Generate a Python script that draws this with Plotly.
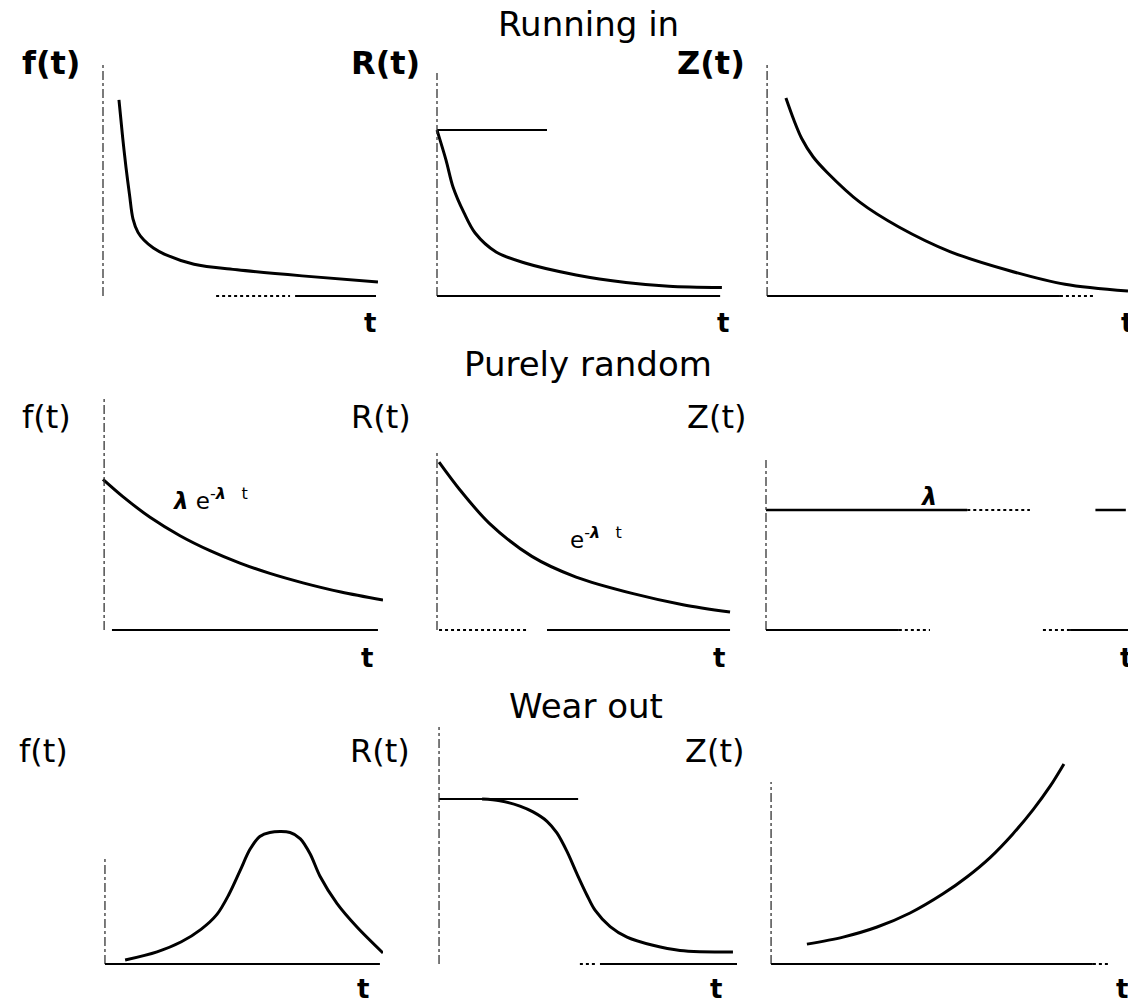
import plotly.graph_objects as go

# ---------------- data (t and values normalised to each panel) ----------------
# Running in
ri_f_t = [0.057, 0.070, 0.082, 0.095, 0.107, 0.125, 0.146, 0.180, 0.221, 0.325, 0.479, 0.711, 0.982]
ri_f_v = [0.838, 0.680, 0.551, 0.430, 0.330, 0.272, 0.239, 0.205, 0.178, 0.136, 0.112, 0.086, 0.060]
ri_R_t = [0.0, 0.031, 0.055, 0.093, 0.131, 0.203, 0.302, 0.478, 0.649, 0.797, 0.979]
ri_R_v = [0.709, 0.581, 0.466, 0.355, 0.269, 0.188, 0.141, 0.090, 0.058, 0.042, 0.036]
ri_R_ref_t = [0.0, 0.378]
ri_R_ref_v = [0.709, 0.709]
ri_Z_t = [0.055, 0.077, 0.099, 0.130, 0.169, 0.260, 0.367, 0.508, 0.666, 0.826, 1.0]
ri_Z_v = [0.846, 0.752, 0.672, 0.595, 0.528, 0.400, 0.295, 0.190, 0.111, 0.050, 0.021]

# Purely random
pr_f_t = [0.0, 0.071, 0.168, 0.275, 0.382, 0.489, 0.596, 0.714, 0.850, 1.0]
pr_f_v = [0.655, 0.580, 0.490, 0.410, 0.345, 0.291, 0.246, 0.205, 0.165, 0.130]
pr_R_t = [0.007, 0.079, 0.179, 0.326, 0.478, 0.674, 0.845, 1.007]
pr_R_v = [0.730, 0.609, 0.465, 0.320, 0.230, 0.158, 0.110, 0.078]
pr_Z_t = [0.0, 0.556]
pr_Z_v = [0.522, 0.522]
pr_Z_dot_t = [0.556, 0.729]
pr_Z_dot_v = [0.522, 0.522]
pr_Z_end_t = [0.910, 0.994]
pr_Z_end_v = [0.522, 0.522]

# Wear out
wo_f_t = [0.079, 0.193, 0.280, 0.350, 0.407, 0.450, 0.490, 0.525, 0.560, 0.596, 0.668, 0.705, 0.740, 0.775, 0.836, 0.907, 1.0]
wo_f_v = [0.017, 0.052, 0.095, 0.148, 0.212, 0.298, 0.400, 0.490, 0.545, 0.562, 0.562, 0.535, 0.470, 0.375, 0.258, 0.158, 0.047]
wo_R_t = [0.155, 0.216, 0.285, 0.330, 0.378, 0.412, 0.447, 0.481, 0.515, 0.543, 0.595, 0.653, 0.742, 0.835, 1.017]
wo_R_v = [0.705, 0.698, 0.675, 0.650, 0.610, 0.560, 0.480, 0.385, 0.295, 0.230, 0.160, 0.115, 0.080, 0.058, 0.051]
wo_R_ref_t = [0.007, 0.485]
wo_R_ref_v = [0.705, 0.705]
wo_Z_t = [0.113, 0.213, 0.307, 0.398, 0.489, 0.555, 0.619, 0.682, 0.738, 0.785, 0.823]
wo_Z_v = [0.085, 0.115, 0.158, 0.218, 0.300, 0.372, 0.455, 0.556, 0.660, 0.760, 0.855]

row_titles = ["Running in", "Purely random", "Wear out"]
panel_labels = ["f(t)", "R(t)", "Z(t)"]
axis_label = "t"

# ---------------- layout geometry (pixels) ----------------
W, H = 1128, 1005
FONT = "DejaVu Sans"
cols = [(103, 280), (437, 291), (766, 362)]      # x of v-axis, width of t=0..1
rows = [(296, 234), (630, 230), (964, 234)]      # y of t-axis, height of v=0..1
XR = [(-0.03, 1.0), (-0.03, 1.031), (-0.03, 1.0)]
YR = (-0.06, 1.06)

fig = go.Figure()
layout = {}
for r in range(3):
    for c in range(3):
        idx = r * 3 + c + 1
        x0, w = cols[c]
        base, h = rows[r]
        xr = XR[c]
        dx0 = max(0.0, (x0 + xr[0] * w) / W)
        dx1 = min(1.0, (x0 + xr[1] * w) / W)
        dy0 = 1 - (base - YR[0] * h) / H
        dy1 = 1 - (base - YR[1] * h) / H
        sfx = "" if idx == 1 else str(idx)
        layout["xaxis" + sfx] = dict(domain=[dx0, dx1], range=list(xr), visible=False,
                                     anchor="y" + sfx, fixedrange=True)
        layout["yaxis" + sfx] = dict(domain=[dy0, dy1], range=list(YR), visible=False,
                                     anchor="x" + sfx, fixedrange=True)


def ax(idx):
    return ("x", "y") if idx == 1 else ("x%d" % idx, "y%d" % idx)


def curve(idx, t, v, width=3.0, dash="solid", smooth=True):
    xa, ya = ax(idx)
    fig.add_trace(go.Scatter(
        x=t, y=v, mode="lines", xaxis=xa, yaxis=ya, showlegend=False, hoverinfo="skip",
        line=dict(color="black", width=width, dash=dash,
                  shape="spline" if smooth else "linear", smoothing=0.9)))


curve(1, ri_f_t, ri_f_v)
curve(2, ri_R_t, ri_R_v)
curve(2, ri_R_ref_t, ri_R_ref_v, width=2, smooth=False)
curve(3, ri_Z_t, ri_Z_v)
curve(4, pr_f_t, pr_f_v)
curve(5, pr_R_t, pr_R_v)
curve(6, pr_Z_t, pr_Z_v, width=2.5, smooth=False)
curve(6, pr_Z_dot_t, pr_Z_dot_v, width=2, dash="dot", smooth=False)
curve(6, pr_Z_end_t, pr_Z_end_v, width=2.5, smooth=False)
curve(7, wo_f_t, wo_f_v)
curve(8, wo_R_t, wo_R_v)
curve(8, wo_R_ref_t, wo_R_ref_v, width=2, smooth=False)
curve(9, wo_Z_t, wo_Z_v)

shapes = []
# vertical (value) axes: panel, t position, top
v_axes = [(1, 0.0, 1.0), (2, 0.0, 0.953), (3, 0.003, 1.0),
          (4, 0.004, 1.013), (5, 0.0, 0.774), (6, 0.0, 0.739),
          (7, 0.007, 0.453), (8, 0.007, 1.013), (9, 0.014, 0.778)]
for idx, tx, top in v_axes:
    xa, ya = ax(idx)
    shapes.append(dict(type="line", xref=xa, yref=ya, x0=tx, x1=tx, y0=0, y1=top,
                       line=dict(color="#333", width=1.3, dash="dashdot")))
# horizontal (time) axes: panel, t0, t1, dash
t_axes = [(1, 0.404, 0.668, "dot"), (1, 0.686, 0.975, "solid"),
          (2, 0.0, 0.973, "solid"),
          (3, 0.003, 0.812, "solid"), (3, 0.812, 0.906, "dot"),
          (4, 0.032, 0.982, "solid"),
          (5, 0.007, 0.316, "dot"), (5, 0.378, 1.007, "solid"),
          (6, 0.0, 0.367, "solid"), (6, 0.367, 0.453, "dot"),
          (6, 0.765, 0.840, "dot"), (6, 0.840, 1.0, "solid"),
          (7, 0.007, 0.989, "solid"),
          (8, 0.491, 0.550, "dot"), (8, 0.560, 1.031, "solid"),
          (9, 0.014, 0.903, "solid"), (9, 0.903, 0.945, "dot")]
for idx, t0, t1, dash in t_axes:
    xa, ya = ax(idx)
    shapes.append(dict(type="line", xref=xa, yref=ya, x0=t0, x1=t1, y0=0, y1=0,
                       line=dict(color="black", width=2, dash=dash)))

annotations = []


def ptxt(text, px, py, size, bold=False, xanchor="center"):
    annotations.append(dict(
        text=("<b>%s</b>" % text) if bold else text, x=px / W, y=1 - py / H,
        xref="paper", yref="paper", xanchor=xanchor, yanchor="middle", showarrow=False,
        font=dict(family=FONT, size=size, color="black")))


title_pos = [(588, 24), (588, 364), (586, 706)]
for (tx, ty), t in zip(title_pos, row_titles):
    ptxt(t, tx, ty, 34)

label_pos = [[(51, 63), (385, 63), (711, 63)],
             [(46, 417), (381, 417), (716, 417)],
             [(43, 751), (380, 751), (714, 751)]]
for r in range(3):
    for c in range(3):
        px, py = label_pos[r][c]
        ptxt(panel_labels[c], px, py, 32, bold=(r == 0))

t_pos = [[(370, 323), (723, 323), (1127, 323)],
         [(367, 658), (719, 658), (1126, 658)],
         [(363, 989), (716, 989), (1122, 989)]]
for r in range(3):
    for c in range(3):
        px, py = t_pos[r][c]
        ptxt(axis_label, px, py, 26, bold=True)

# formula labels in data coordinates
annotations.append(dict(text="<b><i>λ</i></b> e<sup>-<b><i>λ</i></b>\u00a0\u00a0\u00a0t</sup>",
                        x=0.24, y=0.57, xref="x4", yref="y4", xanchor="left", yanchor="middle",
                        showarrow=False, font=dict(family=FONT, size=23, color="black")))
annotations.append(dict(text="e<sup>-<b><i>λ</i></b>\u00a0\u00a0\u00a0t</sup>",
                        x=0.45, y=0.40, xref="x5", yref="y5", xanchor="left", yanchor="middle",
                        showarrow=False, font=dict(family=FONT, size=23, color="black")))
annotations.append(dict(text="<b><i>λ</i></b>",
                        x=0.448, y=0.58, xref="x6", yref="y6", xanchor="center", yanchor="middle",
                        showarrow=False, font=dict(family=FONT, size=24, color="black")))

fig.update_layout(
    width=W, height=H, margin=dict(l=0, r=0, t=0, b=0),
    paper_bgcolor="white", plot_bgcolor="white", showlegend=False,
    shapes=shapes, annotations=annotations, **layout)

fig.write_html("out.html")
